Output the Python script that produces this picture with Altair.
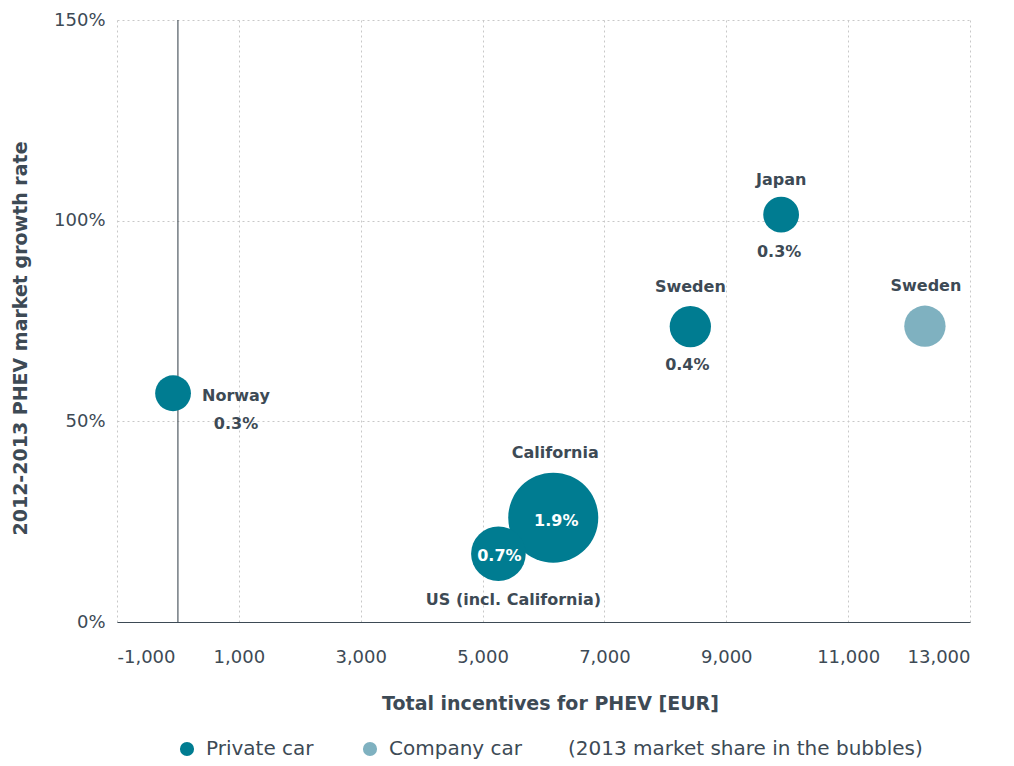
import altair as alt
import pandas as pd

# ---- data ----
countries = ["Norway", "California", "US (incl. California)", "Sweden", "Japan", "Sweden"]
car_type = ["Private car", "Private car", "Private car", "Private car", "Private car", "Company car"]
incentives = [-80, 6160, 5260, 8410, 9900, 12260]
growth = [0.570, 0.260, 0.170, 0.736, 1.015, 0.737]
share = [0.3, 1.9, 0.7, 0.4, 0.3, 0.4]
share_label = ["0.3%", "1.9%", "0.7%", "0.4%", "0.3%", ""]

x_ticks = [-1000, 1000, 3000, 5000, 7000, 9000, 11000, 13000]
y_ticks = [0, 0.5, 1.0, 1.5]
type_order = ["Private car", "Company car"]

TEAL = "#007C91"
LIGHT = "#7FB1C0"
TEXT = "#3D4A55"
FONT = "DejaVu Sans"

df = pd.DataFrame({
    "id": list(range(len(countries))),
    "country": countries,
    "type": car_type,
    "incentive": incentives,
    "growth": growth,
    "share": share,
    "share_label": share_label,
})

xenc = alt.X("incentive:Q",
             scale=alt.Scale(domain=[-1000, 13000], nice=False, zero=False),
             axis=alt.Axis(values=x_ticks, format=",.0f", title="Total incentives for PHEV [EUR]",
                           labelExpr="replace(datum.label, '\u2212', '-')",
                           grid=True, gridDash=[2, 3], gridColor="#C8C8C8",
                           domain=True, domainColor=TEXT, domainWidth=1.2,
                           ticks=False, labelPadding=26, labelFontSize=18,
                           labelColor=TEXT, labelFont=FONT,
                           titleFont=FONT, titleFontSize=19, titleFontWeight="bold",
                           titleColor=TEXT, titlePadding=28, titleX=433))
yenc = alt.Y("growth:Q",
             scale=alt.Scale(domain=[0, 1.5], nice=False),
             axis=alt.Axis(values=y_ticks, format=".0%", title="2012-2013 PHEV market growth rate",
                           grid=True, gridDash=[2, 3], gridColor="#C8C8C8",
                           domain=False, ticks=False, labelPadding=12, labelFontSize=18,
                           labelColor=TEXT, labelFont=FONT,
                           titleFont=FONT, titleFontSize=19, titleFontWeight="bold",
                           titleColor=TEXT, titleX=-97, titleY=318,
                           titleBaseline="middle", titleAngle=-90))

base = alt.Chart(df)

vline = alt.Chart(pd.DataFrame({"v": [0]})).mark_rule(color="#2E3A44", strokeWidth=1).encode(
    x=alt.X("v:Q", scale=alt.Scale(domain=[-1000, 13000], nice=False, zero=False))
)

bubbles = base.mark_circle(opacity=1).encode(
    x=xenc, y=yenc,
    size=alt.Size("share:Q", scale=alt.Scale(domain=[0, 1.9], range=[0, 8107]), legend=None),
    color=alt.Color("type:N", scale=alt.Scale(domain=type_order, range=[TEAL, LIGHT]),
                    legend=alt.Legend(title="(2013 market share in the bubbles)", orient="none",
                                      legendX=60, legendY=719, direction="horizontal",
                                      symbolType="circle", symbolSize=200, symbolStrokeWidth=0,
                                      labelFontSize=20, labelFont=FONT, labelColor=TEXT,
                                      labelOffset=9, columnPadding=46, labelLimit=0,
                                      titleOrient="right", titleFontSize=20, titleFont=FONT,
                                      titleFontWeight="normal", titleColor=TEXT, titleLimit=0,
                                      titlePadding=46, titleBaseline="middle")),
)

# label specs: (row id, field, dx, dy, align, colour)
label_specs = [
    (0, "country", 29, 3, "left", TEXT),
    (0, "share_label", 63, 31, "center", TEXT),
    (1, "country", 2, -65, "center", TEXT),
    (1, "share_label", 3, 3, "center", "white"),
    (2, "share_label", 1, 2, "center", "white"),
    (2, "country", 15, 46, "center", TEXT),
    (3, "country", 0, -40, "center", TEXT),
    (3, "share_label", -3, 38, "center", TEXT),
    (4, "country", 0, -35, "center", TEXT),
    (4, "share_label", -2, 37, "center", TEXT),
    (5, "country", 1, -40, "center", TEXT),
]

label_layers = []
for rid, field, dx, dy, align, col in label_specs:
    label_layers.append(
        base.transform_filter(alt.datum.id == rid).mark_text(
            dx=dx, dy=dy, align=align, baseline="middle", color=col,
            font=FONT, fontSize=16, fontWeight=600
        ).encode(x="incentive:Q", y="growth:Q", text=f"{field}:N")
    )

chart = alt.layer(vline, bubbles, *label_layers).properties(
    width=853, height=602,
    autosize=alt.AutoSizeParams(type="none"),
    padding={"left": 109, "top": 12, "right": 30, "bottom": 142},
    background="white",
).configure_view(stroke=None)

chart.save("out.html", embed_options={"renderer": "svg", "actions": False})
